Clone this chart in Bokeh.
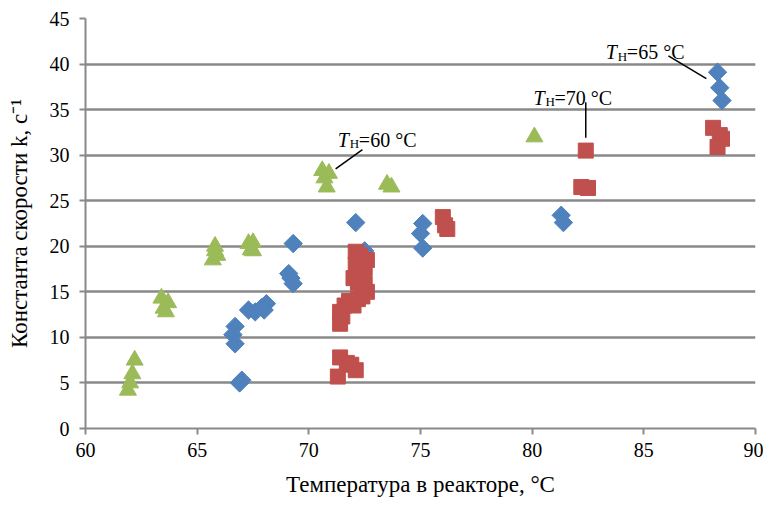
import math
from bokeh.plotting import figure
from bokeh.models import Label, Range1d
from bokeh.embed import file_html
from bokeh.resources import INLINE

# ---- data ----
# T_H = 65 °C (blue diamonds)
blue_x = [66.9, 67.0, 66.7, 66.6, 66.7, 67.3, 67.6, 67.9, 68.1, 68.0, 69.1, 69.2, 69.3, 69.3,
          72.1, 72.5, 75.1, 75.0, 75.1, 81.3, 81.4, 88.3, 88.4, 88.5]
blue_y = [5.0, 5.3, 11.2, 10.3, 9.3, 13.0, 12.8, 13.3, 13.7, 13.0, 17.0, 16.5, 15.9, 20.3,
          22.6, 19.5, 22.5, 21.4, 19.8, 23.4, 22.6, 39.1, 37.4, 36.0]
# T_H = 70 °C (red squares)
red_x = [71.3, 71.4, 71.7, 71.9, 72.1, 71.4, 71.5, 71.4, 71.6, 71.8, 72.0, 72.2, 72.4, 72.6,
         72.5, 72.2, 72.0, 72.3, 72.5, 72.1, 72.6, 72.3, 72.1, 76.0, 76.1, 76.2, 82.2, 82.5,
         82.4, 88.1, 88.4, 88.5, 88.3]
red_y = [5.7, 7.8, 7.2, 7.0, 6.4, 11.5, 12.3, 12.8, 13.5, 14.0, 13.5, 14.2, 14.5, 15.0,
         15.8, 16.0, 16.5, 17.0, 17.5, 18.0, 18.5, 19.0, 19.4, 23.2, 22.3, 21.9, 26.5, 26.4,
         30.5, 33.0, 32.2, 31.8, 30.9]
# T_H = 60 °C (green triangles)
green_x = [61.9, 62.0, 62.1, 62.2, 63.4, 63.5, 63.7, 63.6, 65.7, 65.8, 65.8, 65.9, 67.3, 67.5,
           67.4, 67.5, 70.6, 70.7, 70.8, 70.9, 73.5, 73.7, 80.1]
green_y = [4.2, 5.0, 6.0, 7.5, 14.3, 13.2, 13.8, 12.8, 18.5, 19.5, 20.0, 19.0, 20.3, 20.4,
           19.6, 19.5, 28.3, 27.5, 26.5, 28.0, 26.8, 26.5, 32.0]

x_ticks = [60, 65, 70, 75, 80, 85, 90]
y_ticks = [0, 5, 10, 15, 20, 25, 30, 35, 40, 45]

x_title = "Температура в реакторе, °C"
y_title = "Константа скорости k, с⁻¹"

ann_sub = "Н"
ann_text = ["=60 °C", "=70 °C", "=65 °C"]
ann_x = [71.3, 80.06, 83.3]
ann_y = [31.7, 36.3, 41.3]
lead_x0 = [72.4, 82.4, 86.1]
lead_y0 = [30.6, 35.8, 40.9]
lead_x1 = [71.2, 82.4, 87.8]
lead_y1 = [28.5, 31.9, 38.4]

# ---- styling ----
FONT = "Liberation Serif"
GRAY = "#898989"
BLUE = "#4F81BD"
RED = "#C0504D"
GREEN = "#9BBB59"

p = figure(width=763, height=505, output_backend="svg", toolbar_location=None,
           x_range=Range1d(60, 90), y_range=Range1d(0, 45),
           min_border_left=85, min_border_right=8, min_border_top=18, min_border_bottom=77)
p.outline_line_color = None
p.background_fill_color = "white"
p.border_fill_color = "white"
p.xgrid.visible = False
p.xaxis.ticker = x_ticks
p.yaxis.ticker = y_ticks
p.ygrid.grid_line_color = GRAY
p.ygrid.grid_line_width = 2.5

p.xaxis.axis_label = x_title
p.yaxis.axis_label = y_title
for ax in (p.xaxis[0], p.yaxis[0]):
    ax.axis_line_color = GRAY
    ax.axis_line_width = 2
    ax.major_tick_line_color = GRAY
    ax.major_tick_line_width = 2
    ax.major_tick_in = 0
    ax.major_tick_out = 6
    ax.minor_tick_line_color = None
    ax.major_label_text_font = FONT
    ax.major_label_text_font_size = "20px"
    ax.major_label_text_color = "black"
    ax.axis_label_text_font = FONT
    ax.axis_label_text_font_size = "23px"
    ax.axis_label_text_font_style = "normal"
    ax.axis_label_text_color = "black"
p.xaxis.major_label_standoff = 8
p.yaxis.major_label_standoff = 10
p.xaxis.axis_label_standoff = 12
p.yaxis.axis_label_standoff = 15

p.scatter(blue_x, blue_y, marker="square", angle=math.pi / 4, size=13,
          fill_color=BLUE, line_color=BLUE, line_width=1)
p.scatter(red_x, red_y, marker="square", size=15,
          fill_color=RED, line_color=RED, line_width=1)
p.scatter(green_x, green_y, marker="triangle", size=17,
          fill_color=GREEN, line_color=GREEN, line_width=1)

p.segment(x0=lead_x0, y0=lead_y0, x1=lead_x1, y1=lead_y1, line_color="black", line_width=1.5)

for i in range(len(ann_text)):
    p.add_layout(Label(x=ann_x[i], y=ann_y[i], text="T", text_font=FONT, text_font_style="italic",
                       text_font_size="20px", text_baseline="alphabetic", text_color="black"))
    p.add_layout(Label(x=ann_x[i], y=ann_y[i], x_offset=12, y_offset=-4, text=ann_sub, text_font=FONT,
                       text_font_size="13px", text_baseline="alphabetic", text_color="black"))
    p.add_layout(Label(x=ann_x[i], y=ann_y[i], x_offset=21, text=ann_text[i], text_font=FONT,
                       text_font_size="20px", text_baseline="alphabetic", text_color="black"))

open("out.html", "w").write(file_html(p, INLINE))
